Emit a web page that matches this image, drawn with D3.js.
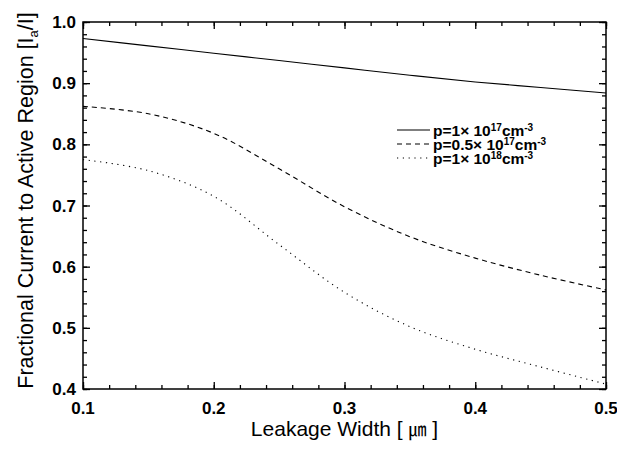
<!DOCTYPE html>
<html>
<head>
<meta charset="utf-8">
<script src="https://cdn.jsdelivr.net/npm/d3@7"></script>
<style>
  body { margin: 0; background: #fff; }
  svg { display: block; }
  text { font-family: "Liberation Sans", Arial, sans-serif; fill: #000; }
</style>
</head>
<body>
<div id="chart"></div>
<script>
// leakage width [um]
const widths = [0.1, 0.15, 0.2, 0.25, 0.3, 0.35, 0.4, 0.45, 0.5];
// fractional current for each doping level
const p1e17 = [0.973, 0.961, 0.949, 0.937, 0.925, 0.913, 0.902, 0.893, 0.884];
const p05e17 = [0.862, 0.850, 0.818, 0.760, 0.698, 0.649, 0.614, 0.586, 0.562];
const p1e18 = [0.775, 0.757, 0.715, 0.636, 0.558, 0.502, 0.465, 0.436, 0.408];
const xTicks = [0.1, 0.2, 0.3, 0.4, 0.5];
const yTicks = [0.4, 0.5, 0.6, 0.7, 0.8, 0.9, 1.0];

const series = [
  { mant: "1", exp: "17", values: p1e17, dash: null },
  { mant: "0.5", exp: "17", values: p05e17, dash: "5,4" },
  { mant: "1", exp: "18", values: p1e18, dash: "1.2,4.6" }
];

const width = 617, height = 451;
const margin = { top: 22, right: 11, bottom: 62, left: 83 };
const innerW = width - margin.left - margin.right;
const innerH = height - margin.top - margin.bottom;

const svg = d3.select("#chart").append("svg")
  .attr("width", width)
  .attr("height", height);

const g = svg.append("g")
  .attr("transform", `translate(${margin.left},${margin.top})`);

const x = d3.scaleLinear().domain([0.1, 0.5]).range([0, innerW]);
const y = d3.scaleLinear().domain([0.4, 1.0]).range([innerH, 0]);

const minorX = d3.range(0.1, 0.5001, 0.02);
const minorY = d3.range(0.4, 1.0001, 0.02);

// ticks pointing inward on all four sides
g.append("g").attr("transform", `translate(0,${innerH})`)
  .call(d3.axisTop(x).tickValues(minorX).tickSize(4).tickFormat("").tickSizeOuter(0));
g.append("g").attr("transform", `translate(0,${innerH})`)
  .call(d3.axisTop(x).tickValues(xTicks).tickSize(7).tickFormat("").tickSizeOuter(0));
g.append("g")
  .call(d3.axisBottom(x).tickValues(minorX).tickSize(4).tickFormat("").tickSizeOuter(0));
g.append("g")
  .call(d3.axisBottom(x).tickValues(xTicks).tickSize(7).tickFormat("").tickSizeOuter(0));
g.append("g")
  .call(d3.axisRight(y).tickValues(minorY).tickSize(4).tickFormat("").tickSizeOuter(0));
g.append("g")
  .call(d3.axisRight(y).tickValues(yTicks).tickSize(7).tickFormat("").tickSizeOuter(0));
g.append("g").attr("transform", `translate(${innerW},0)`)
  .call(d3.axisLeft(y).tickValues(minorY).tickSize(4).tickFormat("").tickSizeOuter(0));
g.append("g").attr("transform", `translate(${innerW},0)`)
  .call(d3.axisLeft(y).tickValues(yTicks).tickSize(7).tickFormat("").tickSizeOuter(0));

g.selectAll(".domain").remove();
g.selectAll(".tick line").attr("stroke", "#000").attr("stroke-width", 1.3);

// frame
g.append("rect")
  .attr("width", innerW).attr("height", innerH)
  .attr("fill", "none").attr("stroke", "#000").attr("stroke-width", 1.5);

// tick labels
g.selectAll(".xlab").data(xTicks).enter().append("text")
  .attr("x", d => x(d)).attr("y", innerH + 25)
  .attr("text-anchor", "middle")
  .style("font-size", "17px").style("font-weight", "bold")
  .text(d => d.toFixed(1));

g.selectAll(".ylab").data(yTicks).enter().append("text")
  .attr("x", -7).attr("y", d => y(d) + 6)
  .attr("text-anchor", "end")
  .style("font-size", "17px").style("font-weight", "bold")
  .text(d => d.toFixed(1));

// curves
const line = d3.line()
  .x((d, i) => x(widths[i]))
  .y(d => y(d))
  .curve(d3.curveCatmullRom.alpha(0.5));

series.forEach(s => {
  g.append("path")
    .datum(s.values)
    .attr("d", line)
    .attr("fill", "none")
    .attr("stroke", "#000")
    .attr("stroke-width", 1.1)
    .attr("stroke-dasharray", s.dash);
});

// legend (rows are tight, superscripts kept small)
const legend = svg.append("g").attr("transform", "translate(397,130)");
series.forEach((s, i) => {
  const row = legend.append("g").attr("transform", `translate(0,${i * 14})`);
  row.append("line")
    .attr("x1", 0).attr("x2", 33)
    .attr("stroke", "#000").attr("stroke-width", 1.1)
    .attr("stroke-dasharray", s.dash);
  const t = row.append("text")
    .attr("x", 36).attr("y", 5.5)
    .style("font-size", "15.5px").style("font-weight", "bold");
  t.append("tspan").text(`p=${s.mant}× 10`);
  t.append("tspan").attr("dy", -4.5).style("font-size", "10px").text(s.exp);
  t.append("tspan").attr("dy", 4.5).text("cm");
  t.append("tspan").attr("dy", -4.5).style("font-size", "10px").text("-3");
});

// axis titles
svg.append("text")
  .attr("x", margin.left + innerW / 2).attr("y", 436)
  .attr("text-anchor", "middle")
  .style("font-size", "21px")
  .call(t => {
    t.append("tspan").text("Leakage Width [ ");
    t.append("tspan").style("font-family", "'Noto Sans CJK KR', sans-serif").style("font-size", "18px").text("㎛");
    t.append("tspan").text(" ]");
  });

const yt = svg.append("text")
  .attr("transform", `translate(33,${margin.top + innerH / 2 - 5}) rotate(-90)`)
  .attr("text-anchor", "middle")
  .style("font-size", "21.5px");
yt.append("tspan").text("Fractional Current to Active Region [I");
yt.append("tspan").attr("dy", 5).style("font-size", "13px").text("a");
yt.append("tspan").attr("dy", -5).text("/I]");
</script>
</body>
</html>
